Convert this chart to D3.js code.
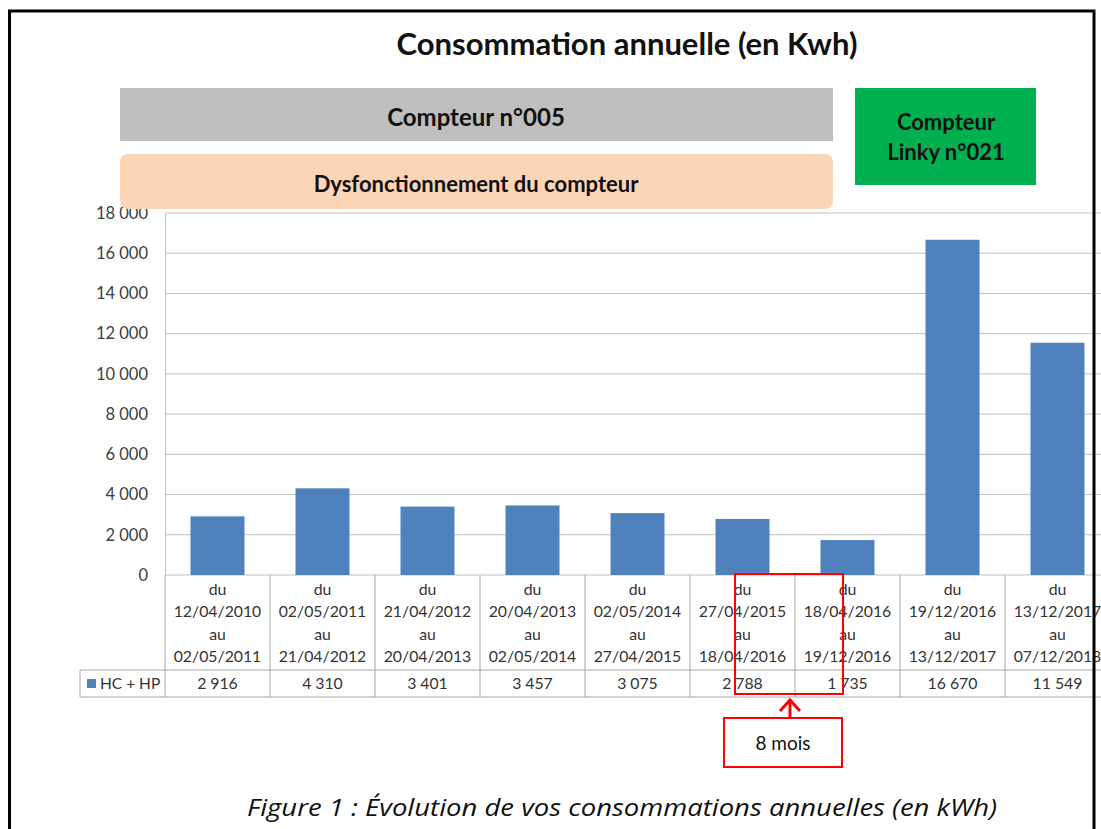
<!DOCTYPE html>
<html>
<head>
<meta charset="utf-8">
<script src="https://cdn.jsdelivr.net/npm/d3@7"></script>
<style>
  body { margin: 0; background: #fff; }
  svg { display: block; font-family: Lato, "Open Sans", sans-serif; }
  .tick text { fill: #404040; }
</style>
</head>
<body>
<div id="chart"></div>
<script>
const periods = [
  ["du", "12/04/2010", "au", "02/05/2011"],
  ["du", "02/05/2011", "au", "21/04/2012"],
  ["du", "21/04/2012", "au", "20/04/2013"],
  ["du", "20/04/2013", "au", "02/05/2014"],
  ["du", "02/05/2014", "au", "27/04/2015"],
  ["du", "27/04/2015", "au", "18/04/2016"],
  ["du", "18/04/2016", "au", "19/12/2016"],
  ["du", "19/12/2016", "au", "13/12/2017"],
  ["du", "13/12/2017", "au", "07/12/2018"]
];
const consumption = [2916, 4310, 3401, 3457, 3075, 2788, 1735, 16670, 11549];
const seriesName = "HC + HP";
const yTicks = [0, 2000, 4000, 6000, 8000, 10000, 12000, 14000, 16000, 18000];

const W = 1101, H = 829;
const plotLeft = 165, plotTop = 213, plotBottom = 575;
const colW = 105;

const fmt = v => d3.format(",")(v).replace(/,/g, "\u202f");

const svg = d3.select("#chart").append("svg")
  .attr("width", W)
  .attr("height", H);

const x = d3.scaleBand()
  .domain(d3.range(periods.length))
  .range([plotLeft, plotLeft + colW * periods.length])
  .padding(0);

const y = d3.scaleLinear()
  .domain([0, 18000])
  .range([plotBottom, plotTop]);

// gridlines
svg.append("g")
  .selectAll("line")
  .data(yTicks)
  .enter().append("line")
  .attr("x1", plotLeft)
  .attr("x2", W)
  .attr("y1", d => y(d))
  .attr("y2", d => y(d))
  .attr("stroke", "#bfbfbf")
  .attr("stroke-width", 1);

// y axis
const yAxis = d3.axisLeft(y).tickValues(yTicks).tickSize(0).tickPadding(17).tickFormat(fmt);
svg.append("g")
  .attr("transform", `translate(${plotLeft},0)`)
  .call(yAxis)
  .call(g => g.select(".domain").attr("stroke", "#bfbfbf"))
  .selectAll("text")
  .style("font-size", "16.5px")
  .style("font-family", "Lato, sans-serif");

// bars
const barW = 54;
svg.append("g")
  .selectAll("rect")
  .data(consumption)
  .enter().append("rect")
  .attr("x", (d, i) => x(i) + (x.bandwidth() - barW) / 2)
  .attr("width", barW)
  .attr("y", d => y(d))
  .attr("height", d => y(0) - y(d))
  .attr("fill", "#4f81bd");

// data table
const tableBottom = 670, rowBottom = 697, legendLeft = 80;
const grid = svg.append("g").attr("stroke", "#a6a6a6").attr("stroke-width", 1);
d3.range(periods.length + 1).forEach(i => {
  const xx = plotLeft + i * colW;
  grid.append("line").attr("x1", xx).attr("x2", xx).attr("y1", plotBottom).attr("y2", rowBottom);
});
grid.append("line").attr("x1", legendLeft).attr("x2", legendLeft).attr("y1", tableBottom).attr("y2", rowBottom);
grid.append("line").attr("x1", legendLeft).attr("x2", W).attr("y1", tableBottom).attr("y2", tableBottom);
grid.append("line").attr("x1", legendLeft).attr("x2", W).attr("y1", rowBottom).attr("y2", rowBottom);

const cat = svg.append("g")
  .selectAll("text")
  .data(periods)
  .enter().append("text")
  .attr("text-anchor", "middle")
  .attr("fill", "#333")
  .style("font-size", "15.8px");
cat.each(function(d, i) {
  const t = d3.select(this);
  d.forEach((line, k) => {
    t.append("tspan")
      .attr("x", x(i) + x.bandwidth() / 2)
      .attr("y", 595 + k * 22.3)
      .text(line);
  });
});

svg.append("g")
  .selectAll("text")
  .data(consumption)
  .enter().append("text")
  .attr("x", (d, i) => x(i) + x.bandwidth() / 2)
  .attr("y", 689)
  .attr("text-anchor", "middle")
  .attr("fill", "#333")
  .style("font-size", "15.8px")
  .text(d => fmt(d));

svg.append("rect")
  .attr("x", 87).attr("y", 679).attr("width", 9).attr("height", 9)
  .attr("fill", "#4f81bd");
svg.append("text")
  .attr("x", 100).attr("y", 689)
  .attr("fill", "#333")
  .style("font-size", "15.5px")
  .text(seriesName);

// header boxes
svg.append("text")
  .attr("x", 627).attr("y", 55)
  .attr("text-anchor", "middle")
  .style("font-size", "31px").style("font-weight", "bold")
  .attr("fill", "#111")
  .text("Consommation annuelle (en Kwh)");

svg.append("rect").attr("x", 120).attr("y", 88).attr("width", 713).attr("height", 53).attr("fill", "#bfbfbf");
svg.append("text").attr("x", 476).attr("y", 126).attr("text-anchor", "middle")
  .style("font-size", "24px").style("font-weight", "bold").attr("fill", "#111")
  .text("Compteur n°005");

svg.append("rect").attr("x", 120).attr("y", 154).attr("width", 713).attr("height", 55)
  .attr("rx", 8).attr("fill", "#fbd5b5");
svg.append("text").attr("x", 476).attr("y", 192).attr("text-anchor", "middle")
  .style("font-size", "22px").style("font-weight", "bold").attr("fill", "#111")
  .text("Dysfonctionnement du compteur");

svg.append("rect").attr("x", 855).attr("y", 88).attr("width", 181).attr("height", 97).attr("fill", "#00b050");
svg.append("text").attr("x", 946).attr("y", 130).attr("text-anchor", "middle")
  .style("font-size", "22px").style("font-weight", "bold").attr("fill", "#111")
  .text("Compteur");
svg.append("text").attr("x", 946).attr("y", 160).attr("text-anchor", "middle")
  .style("font-size", "22px").style("font-weight", "bold").attr("fill", "#111")
  .text("Linky n°021");

// outer frame
svg.append("path")
  .attr("d", `M9.5,${H} V11 H1094 V${H}`)
  .attr("fill", "none")
  .attr("stroke", "#000")
  .attr("stroke-width", 3);

// annotation
const red = "#ff0000";
svg.append("rect").attr("x", 735).attr("y", 574).attr("width", 108).attr("height", 120)
  .attr("fill", "none").attr("stroke", red).attr("stroke-width", 2);
svg.append("line").attr("x1", 790).attr("x2", 790).attr("y1", 700).attr("y2", 717)
  .attr("stroke", red).attr("stroke-width", 3);
svg.append("path").attr("d", "M780,711 L790,700 L800,711")
  .attr("fill", "none").attr("stroke", red).attr("stroke-width", 3);
svg.append("rect").attr("x", 724).attr("y", 718).attr("width", 118).attr("height", 49)
  .attr("fill", "#fff").attr("stroke", red).attr("stroke-width", 2);
svg.append("text").attr("x", 783).attr("y", 750).attr("text-anchor", "middle")
  .style("font-size", "19px").attr("fill", "#111")
  .text("8 mois");

// caption
svg.append("text")
  .attr("x", 247).attr("y", 816)
  .attr("textLength", 750)
  .attr("lengthAdjust", "spacingAndGlyphs")
  .style("font-size", "24px").style("font-style", "italic")
  .style("font-family", "'Open Sans', sans-serif")
  .attr("fill", "#111")
  .text("Figure 1 : Évolution de vos consommations annuelles (en kWh)");
</script>
</body>
</html>
